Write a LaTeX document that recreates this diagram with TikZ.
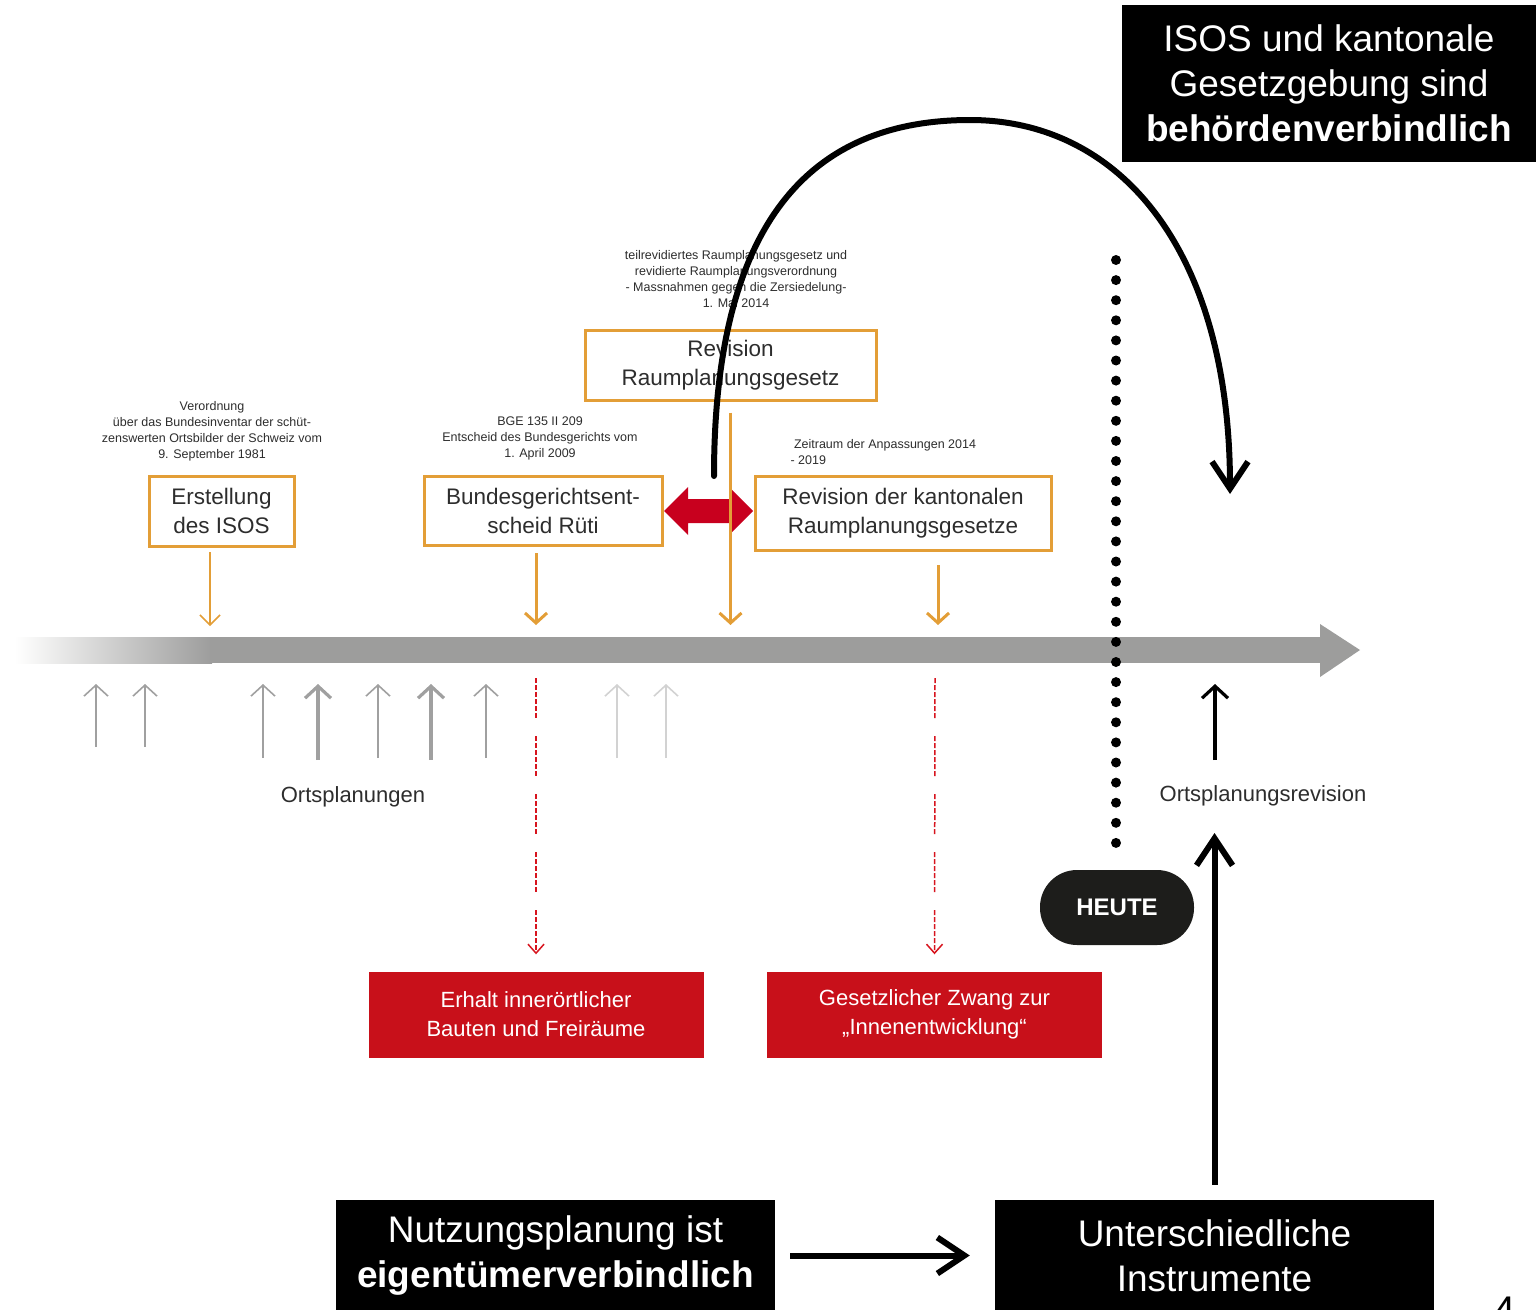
\documentclass[tikz,border=0pt]{standalone}
\usepackage{fontspec}
\setmainfont{Liberation Sans}
\usetikzlibrary{arrows.meta}

\definecolor{isosorange}{RGB}{227,158,55}
\definecolor{tlgray}{RGB}{157,157,156}
\definecolor{upgray}{RGB}{160,160,160}
\definecolor{uplight}{RGB}{210,210,210}
\definecolor{boxred}{RGB}{200,16,26}
\definecolor{arrowred}{RGB}{200,0,30}
\definecolor{dashred}{RGB}{215,20,30}
\definecolor{heuteblack}{RGB}{29,29,27}
\definecolor{textdark}{RGB}{45,45,45}

\begin{document}
\begin{tikzpicture}[x=1pt,y=-1pt,
  obox/.style={draw=isosorange, line width=3pt, align=center, inner sep=0pt, font=\fontsize{22.5}{29}\selectfont, text=textdark},
  note/.style={align=center, font=\fontsize{12.5}{16}\selectfont, text=textdark},
  rbox/.style={fill=boxred, text=white, align=center, inner sep=0pt, minimum width=335pt, minimum height=86pt, font=\fontsize{22}{29}\selectfont},
  kbox/.style={fill=black, text=white, align=center, inner sep=0pt, minimum width=439pt, font=\fontsize{37}{45}\selectfont},
  label/.style={font=\fontsize{22}{26}\selectfont, text=textdark},
  oarrow/.style={draw=isosorange, line width=3pt, -{Straight Barb[length=10pt,width=22pt]}},
  othin/.style={draw=isosorange, line width=1.5pt, -{Straight Barb[length=10pt,width=20pt]}},
  upthin/.style={line width=1.6pt, -{Straight Barb[length=11pt,width=24pt]}},
  upthick/.style={line width=3.2pt, -{Straight Barb[length=12pt,width=26pt]}},
  rdash/.style={draw=dashred, line width=1.5pt, dash pattern=on 5pt off 2pt on 5pt off 2pt on 5pt off 2pt on 5pt off 2pt on 5pt off 2pt on 5pt off 18pt, -{Straight Barb[length=9pt,width=16pt]}},
  karrow/.style={line width=6pt, -{Straight Barb[length=27pt,width=36pt]}}]
\useasboundingbox (0,0) rectangle (1536,1309);

% timeline
\shade[left color=white, right color=tlgray] (15,637) rectangle (212,663);
\fill[tlgray] (210,637) rectangle (1322,663);
\fill[tlgray] (1320,624) -- (1360,650) -- (1320,677) -- cycle;

% notes above the boxes
\node[note] (n1) at (212,431) {Verordnung\\über das Bundesinventar der schüt-\\zenswerten Ortsbilder der Schweiz vom\\9. September 1981};
\node[note] (n2) at (540,438) {BGE 135 II 209\\Entscheid des Bundesgerichts vom\\1. April 2009};
\node[note] (n3) at (736,279) {teilrevidiertes Raumplanungsgesetz und\\revidierte Raumplanungsverordnung\\- Massnahmen gegen die Zersiedelung-\\1. Mai 2014};
\node[note, align=left, anchor=west] (n4) at (787,452) {\ Zeitraum der Anpassungen 2014\\- 2019};

% orange boxes
\node[obox, minimum width=145pt, minimum height=70pt] (erst) at (221.5,511) {Erstellung\\des ISOS};
\node[obox, minimum width=238pt, minimum height=69pt] (bger) at (543,510.5) {Bundesgerichtsent-\\scheid Rüti};
\node[obox, minimum width=291pt, minimum height=70pt] (rpg) at (730.5,365) {Revision\\Raumplanungsgesetz};
\node[obox, minimum width=296pt, minimum height=74pt] (krpg) at (903,513) {Revision der kantonalen\\Raumplanungsgesetze};

% red double arrow
\fill[arrowred] (664,511) -- (688,487) -- (688,499) -- (729,499) -- (729,487) -- (753,511)
  -- (729,535) -- (729,523) -- (688,523) -- (688,535) -- cycle;

% orange arrows onto the timeline
\coordinate (o1a) at (210,552);
\coordinate (o1b) at (210,626);
\coordinate (o2a) at (536,553);
\coordinate (o2b) at (536,625);
\coordinate (o4a) at (938,565);
\coordinate (o4b) at (938,625);
\draw[othin] (o1a) -- (o1b);
\draw[oarrow] (o2a) -- (o2b);
\draw[oarrow] ([yshift=-11pt]rpg.south) -- (rpg.south |- o2b);
\draw[oarrow] (o4a) -- (o4b);

% Ortsplanungen
\foreach \x in {96,145} \draw[upthin, upgray] (\x,747) -- (\x,684);
\foreach \x in {263,378,486} \draw[upthin, upgray] (\x,758) -- (\x,684);
\foreach \x in {318,431} \draw[upthick, upgray] (\x,760) -- (\x,684);
\foreach \x in {617,666} \draw[upthin, uplight] (\x,758) -- (\x,684);
\node[label] (orts) at (353,797) {Ortsplanungen};

% red boxes
\node[rbox] (erh) at (536,1014.5) {Erhalt innerörtlicher\\Bauten und Freiräume};
\node[rbox] (zwang) at (934.5,1014.5) {Gesetzlicher Zwang zur\\„Innenentwicklung“};
\coordinate (d1) at (536,678);
\coordinate (d2) at (935,678);
\draw[rdash] (d1) -- ([yshift=17pt]erh.north);
\draw[rdash] (d2) -- ([yshift=17pt]zwang.north);

% heute
\draw[line width=10pt, line cap=round, dash pattern=on 0pt off 20.1pt] (1116,260) -- (1116,843);
\node[fill=heuteblack, text=white, rounded corners=37pt, minimum width=154pt, minimum height=75pt,
  font=\fontsize{24}{28}\selectfont\bfseries] (heute) at (1117,907.5) {HEUTE};

% Ortsplanungsrevision
\node[label] (orev) at (1263,796) {Ortsplanungsrevision};
\coordinate (r1) at (1215,760);
\coordinate (r2) at (1215,684);
\draw[upthick, black] (r1) -- (r2);

% black boxes
\node[kbox, minimum width=414pt, minimum height=157pt] (isos) at (1329,83.5) {ISOS und kantonale\\Gesetzgebung sind\\\textbf{behördenverbindlich}};
\node[kbox, minimum height=111pt] (nutz) at (555.5,1255.5) {Nutzungsplanung ist\\\textbf{eigentümerverbindlich}};
\node[kbox, minimum height=111pt] (instr) at (1214.5,1255.5) {Unterschiedliche\\Instrumente};
\coordinate (revtip) at (1214.5,833);
\draw[karrow] ([xshift=15pt]nutz.east) -- ([xshift=-25pt]instr.west);
\draw[karrow] ([yshift=15pt]instr.north) -- (revtip);

% big arc
\coordinate (arcstart) at (714,476);
\coordinate (arcend) at (1230,494);
\draw[karrow, line cap=round] (arcstart) .. controls (714,210) and (820,120) .. (970,120)
  .. controls (1120,120) and (1230,250) .. (arcend);

% page number
\node[font=\fontsize{40}{44}\selectfont] (page) at (1505,1311) {4};
\end{tikzpicture}
\end{document}
